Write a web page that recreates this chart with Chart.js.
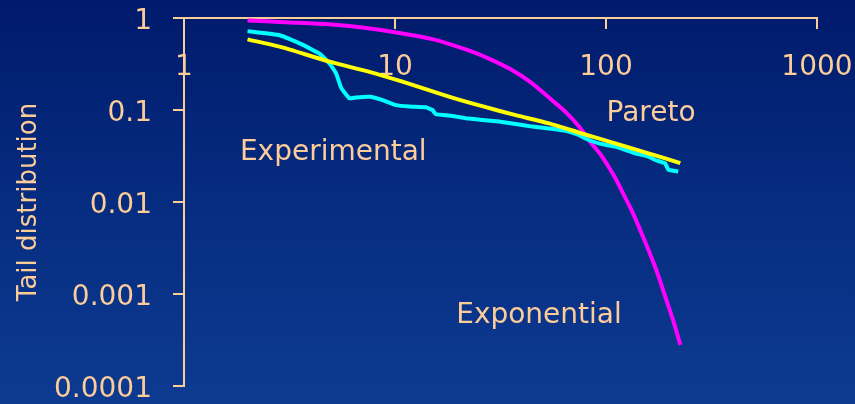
<!DOCTYPE html>
<html>
<head>
<meta charset="utf-8">
<script src="https://cdn.jsdelivr.net/npm/chart.js@4.4.1/dist/chart.umd.min.js"></script>
<style>
  html, body { margin: 0; padding: 0; background: #001a6b; }
  #wrap { width: 855px; height: 404px; }
</style>
</head>
<body>
<div id="wrap"><canvas id="chart" width="855" height="404"></canvas></div>
<script>
// Valores (escala log-log)
const xTicks = [1, 10, 100, 1000];
const xTickLabels = ['1', '10', '100', '1000'];
const yTicks = [0.0001, 0.001, 0.01, 0.1, 1];
const yTickLabels = ['0.0001', '0.001', '0.01', '0.1', '1'];

const expX = [2, 3, 5, 7, 10, 15, 22, 28, 35, 44, 55, 65, 75, 83, 95, 103, 111, 123, 132, 145, 159, 175, 191, 208, 225];
const expY = [0.94, 0.9, 0.85, 0.79, 0.70, 0.59, 0.45, 0.36, 0.28, 0.20, 0.13, 0.093, 0.065, 0.047, 0.032, 0.024, 0.018, 0.0113, 0.0082, 0.0050, 0.0030, 0.0017, 0.00093, 0.00052, 0.00028];

const expeX = [2, 2.84, 3.66, 4.39, 4.9, 5.26, 5.56, 6.08, 6.54, 7.56, 8.74, 10.1, 11.7, 14.0, 15.05, 15.6, 18.7, 21.6, 25.9, 31.1, 37.3, 44.7, 53.6, 64.3, 74.2, 79.8, 92.3, 110.7, 123.4, 137.5, 159, 171, 190.5, 197.6, 220];
const expeY = [0.72, 0.65, 0.51, 0.41, 0.32, 0.25, 0.174, 0.134, 0.137, 0.139, 0.128, 0.113, 0.109, 0.107, 0.1, 0.09, 0.086, 0.0814, 0.078, 0.075, 0.0706, 0.066, 0.063, 0.0595, 0.0535, 0.049, 0.0434, 0.040, 0.0368, 0.0338, 0.0312, 0.0286, 0.0264, 0.0224, 0.0215];

const parX = [2, 2.84, 4.9, 7.56, 10.85, 18, 25.9, 37.3, 53.6, 76.6, 110.7, 159, 225];
const parY = [0.586, 0.488, 0.335, 0.26, 0.203, 0.14, 0.110, 0.088, 0.0716, 0.0558, 0.0434, 0.0338, 0.0265];

// Etiquetas de las curvas (posición en coordenadas de datos)
const noteText = ['Experimental', 'Pareto', 'Exponential'];
const noteX = [1.84, 100.6, 19.5];
const noteY = [0.0285, 0.0758, 0.00049];

const peach = '#fccc99';
const fontFamily = '"DejaVu Sans", "Liberation Sans", Arial, sans-serif';

const toPoints = (xs, ys) => xs.map((x, i) => ({ x: x, y: ys[i] }));

const background = {
    id: 'background',
    beforeDraw(chart) {
        const ctx = chart.ctx;
        const g = ctx.createLinearGradient(0, 0, 0, chart.height);
        g.addColorStop(0, '#001a6b');
        g.addColorStop(0.5, '#062c80');
        g.addColorStop(1, '#0d3b91');
        ctx.save();
        ctx.fillStyle = g;
        ctx.fillRect(0, 0, chart.width, chart.height);
        ctx.restore();
    }
};

const notes = {
    id: 'notes',
    afterDatasetsDraw(chart) {
        const ctx = chart.ctx;
        const xs = chart.scales.x, ys = chart.scales.y;
        ctx.save();
        ctx.fillStyle = peach;
        ctx.font = '28px ' + fontFamily;
        ctx.textAlign = 'left';
        ctx.textBaseline = 'alphabetic';
        noteText.forEach((t, i) => {
            ctx.fillText(t, xs.getPixelForValue(noteX[i]), ys.getPixelForValue(noteY[i]));
        });
        ctx.restore();
    }
};

new Chart(document.getElementById('chart'), {
    type: 'line',
    data: {
        datasets: [
            {
                label: 'Pareto',
                data: toPoints(parX, parY),
                borderColor: '#ffff00',
                borderWidth: 4,
                pointRadius: 0,
                tension: 0.2
            },
            {
                label: 'Experimental',
                data: toPoints(expeX, expeY),
                borderColor: '#00ffff',
                borderWidth: 4,
                pointRadius: 0,
                tension: 0.1
            },
            {
                label: 'Exponential',
                data: toPoints(expX, expY),
                borderColor: '#ff00ff',
                borderWidth: 4,
                pointRadius: 0,
                tension: 0.3
            }
        ]
    },
    options: {
        responsive: false,
        animation: false,
        layout: { padding: { top: 18, right: 38, bottom: 18, left: 0 } },
        plugins: {
            legend: { display: false },
            tooltip: { enabled: false }
        },
        scales: {
            x: {
                type: 'logarithmic',
                position: { y: 1 },
                min: 1,
                max: 1000,
                afterBuildTicks: (scale) => { scale.ticks = xTicks.map(v => ({ value: v })); },
                afterFit: (scale) => { scale.paddingLeft = 0; scale.paddingRight = 0; },
                ticks: {
                    color: peach,
                    font: { family: fontFamily, size: 28 },
                    padding: 23,
                    maxRotation: 0,
                    autoSkip: false,
                    callback: (value) => xTickLabels[xTicks.indexOf(value)]
                },
                grid: { drawOnChartArea: false, drawTicks: true, tickLength: 10, color: peach, lineWidth: 2 },
                border: { display: true, color: peach, width: 2 }
            },
            y: {
                type: 'logarithmic',
                position: 'left',
                min: 0.0001,
                max: 1,
                afterBuildTicks: (scale) => { scale.ticks = yTicks.map(v => ({ value: v })); },
                afterFit: (scale) => { scale.width = 184; scale.paddingTop = 0; scale.paddingBottom = 0; },
                ticks: {
                    color: peach,
                    font: { family: fontFamily, size: 28 },
                    padding: 21,
                    labelOffset: 4,
                    autoSkip: false,
                    callback: (value) => yTickLabels[yTicks.indexOf(value)]
                },
                title: {
                    display: true,
                    text: 'Tail distribution',
                    color: peach,
                    font: { family: fontFamily, size: 26 },
                    padding: { top: 14, bottom: 0 }
                },
                grid: { drawOnChartArea: false, drawTicks: true, tickLength: 11, color: peach, lineWidth: 2 },
                border: { display: true, color: peach, width: 2 }
            }
        }
    },
    plugins: [background, notes]
});
</script>
</body>
</html>
